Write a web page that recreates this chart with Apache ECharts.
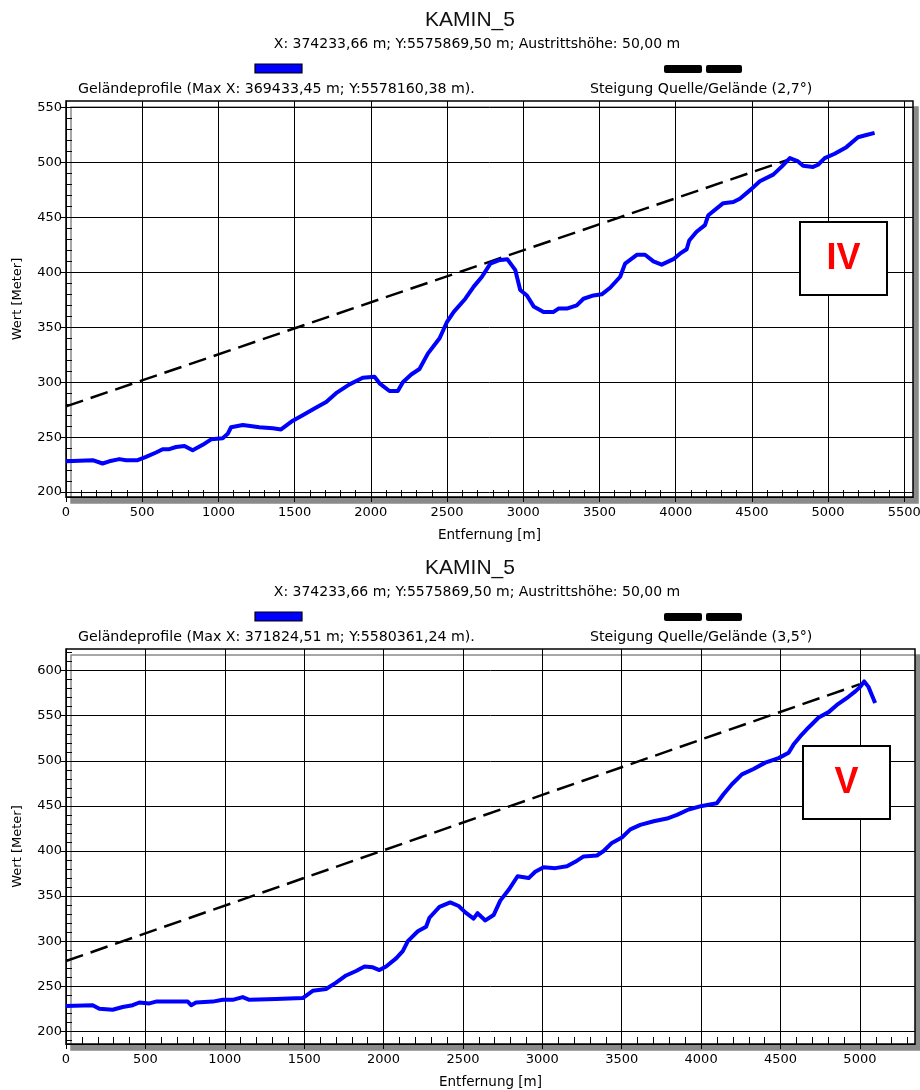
<!DOCTYPE html>
<html><head><meta charset="utf-8">
<script src="https://cdn.jsdelivr.net/npm/echarts@6/dist/echarts.min.js"></script>
<style>html,body{margin:0;padding:0;background:#fff}#c{width:920px;height:1090px}</style>
</head><body><div id="c"></div><script>
// ---------- data ----------
const titleText = 'KAMIN_5';
const subtitleText = 'X: 374233,66 m; Y:5575869,50 m; Austrittshöhe: 50,00 m';
const topProfileName = 'Geländeprofile (Max X: 369433,45 m; Y:5578160,38 m).';
const topSlopeName = 'Steigung Quelle/Gelände (2,7°)';
const botProfileName = 'Geländeprofile (Max X: 371824,51 m; Y:5580361,24 m).';
const botSlopeName = 'Steigung Quelle/Gelände (3,5°)';
const xName = 'Entfernung [m]';
const yName = 'Wert [Meter]';

const topDist = [0,175,240,284,350,394,470,525,591,634,678,722,777,831,897,952,1028,1061,1083,1160,1269,1357,1411,1488,1553,1630,1707,1772,1860,1947,2024,2057,2122,2177,2210,2265,2319,2374,2451,2500,2544,2620,2675,2729,2784,2838,2895,2948,2980,3024,3068,3133,3199,3231,3286,3351,3395,3461,3515,3570,3636,3668,3745,3799,3854,3908,3985,4028,4072,4089,4137,4192,4214,4312,4378,4421,4498,4552,4640,4694,4749,4803,4836,4901,4934,4978,5043,5120,5196,5251,5305];
const topElev = [228,229,226,228,230,229,229,232,236,239,239,241,242,238,243,248,249,253,259,261,259,258,257,265,270,276,282,290,298,304,305,299,292,292,300,307,312,326,340,355,364,376,387,396,408,411,412,402,384,379,369,364,364,367,367,370,376,379,380,386,396,408,416,416,410,407,412,417,421,429,437,443,452,463,464,467,476,483,489,496,504,501,497,496,498,504,508,514,523,525,527];
const topSlopeDist = [0, 4750];
const topSlopeElev = [278, 503];

const botDist = [0,168,210,294,357,420,462,525,567,767,788,819,924,987,1050,1113,1155,1323,1491,1554,1638,1701,1764,1827,1880,1932,1974,2016,2079,2121,2153,2216,2268,2289,2352,2420,2473,2515,2567,2592,2641,2693,2735,2788,2844,2914,2955,3008,3081,3155,3207,3260,3344,3386,3438,3501,3554,3617,3701,3785,3848,3921,4005,4099,4141,4194,4257,4330,4404,4488,4551,4582,4624,4677,4740,4803,4855,4928,4971,5002,5027,5054,5075,5096];
const botElev = [228,229,225,224,227,229,232,231,233,233,229,232,233,235,235,238,235,236,237,245,247,254,262,267,272,271,268,272,281,289,300,311,316,326,338,343,339,332,325,331,323,329,345,357,372,370,377,382,381,383,388,394,395,400,409,415,424,429,433,436,440,446,450,453,463,474,485,491,498,503,509,518,527,537,548,554,562,571,577,582,588,582,573,564];
const botSlopeDist = [0, 5000];
const botSlopeElev = [278, 585];

const topXLabels = [0,500,1000,1500,2000,2500,3000,3500,4000,4500,5000,5500];
const topYLabels = [200,250,300,350,400,450,500,550];
const botXLabels = [0,500,1000,1500,2000,2500,3000,3500,4000,4500,5000];
const botYLabels = [200,250,300,350,400,450,500,550,600];

// ---------- helpers ----------
function range(a, b, s) { const r = []; for (let v = a; v <= b; v += s) r.push(v); return r; }
function pairs(xs, ys) { return xs.map((x, i) => [x, ys[i]]); }
const plain = v => String(Math.round(v));

const FONT = 'DejaVu Sans';
const TOP = { left: 66, top: 101, width: 847, height: 396, xmax: 5557, ymin: 195.5, ymax: 556 };
const BOT = { left: 66, top: 649, width: 849, height: 395, xmax: 5347, ymin: 186, ymax: 624 };

function grids(p) {
  return [
    { left: p.left, top: p.top, width: p.width, height: p.height, show: true, outerBoundsMode: 'none', containLabel: false,
      backgroundColor: '#fff', borderColor: '#000', borderWidth: 1.5,
      shadowColor: '#8a8a8a', shadowOffsetX: 5, shadowOffsetY: 6, shadowBlur: 0 },
    { left: p.left, top: p.top, width: p.width, height: p.height, show: false, outerBoundsMode: 'none', containLabel: false }
  ];
}
function xAxes(p, g, labels) {
  return [
    { type: 'value', gridIndex: g, min: 0, max: p.xmax, interval: 500,
      axisLine: { show: true, onZero: false, lineStyle: { color: '#000', width: 1 } },
      axisTick: { show: true, length: 5, customValues: labels, lineStyle: { color: '#000', width: 1 } },
      axisLabel: { customValues: labels, formatter: plain, color: '#000', fontFamily: FONT, fontSize: 13, margin: 9 },
      splitLine: { show: true, lineStyle: { color: '#000', width: 1 } },
      name: xName, nameLocation: 'middle', nameGap: 31,
      nameTextStyle: { color: '#000', fontFamily: FONT, fontSize: 13.5 } },
    { type: 'value', gridIndex: g + 1, min: 0, max: p.xmax,
      axisLine: { show: false }, axisLabel: { show: false }, splitLine: { show: false },
      axisTick: { show: true, inside: true, length: 7, customValues: range(0, p.xmax, 100),
                  lineStyle: { color: '#000', width: 1 } } }
  ];
}
function yAxes(p, g, labels) {
  return [
    { type: 'value', gridIndex: g, min: p.ymin, max: p.ymax, minInterval: 50, maxInterval: 50,
      axisLine: { show: true, onZero: false, lineStyle: { color: '#000', width: 1 } },
      axisTick: { show: true, length: 5, customValues: labels, lineStyle: { color: '#000', width: 1 } },
      axisLabel: { customValues: labels, formatter: plain, color: '#000', fontFamily: FONT, fontSize: 13, margin: 4 },
      splitLine: { show: true, lineStyle: { color: '#000', width: 1 } },
      name: yName, nameLocation: 'middle', nameGap: 42, nameRotate: 90,
      nameTextStyle: { color: '#000', fontFamily: FONT, fontSize: 13 } },
    { type: 'value', gridIndex: g + 1, min: p.ymin, max: p.ymax,
      axisLine: { show: false }, axisLabel: { show: false }, splitLine: { show: false },
      axisTick: { show: true, inside: true, length: 6,
                  customValues: range(Math.ceil(p.ymin / 10) * 10, p.ymax, 10),
                  lineStyle: { color: '#000', width: 1 } } }
  ];
}
function header(y0, profName, slopeName, boxY, boxLabel, boxX) {
  return [
    { type: 'text', x: 470, y: y0 + 20, style: { text: titleText, font: '21px "Liberation Sans"', fill: '#111', align: 'center', verticalAlign: 'middle' } },
    { type: 'text', x: 477, y: y0 + 44, style: { text: subtitleText, font: '14px "DejaVu Sans"', fill: '#000', align: 'center', verticalAlign: 'middle' } },
    { type: 'rect', shape: { x: 255, y: y0 + 64, width: 47, height: 9 }, style: { fill: '#0000ff', stroke: '#000', lineWidth: 1.2 } },
    { type: 'rect', shape: { x: 664, y: y0 + 65, width: 38, height: 8, r: 2 }, style: { fill: '#000' } },
    { type: 'rect', shape: { x: 706, y: y0 + 65, width: 36, height: 8, r: 2 }, style: { fill: '#000' } },
    { type: 'text', x: 78, y: y0 + 89, style: { text: profName, font: '14.2px "DejaVu Sans"', fill: '#000', align: 'left', verticalAlign: 'middle' } },
    { type: 'text', x: 590, y: y0 + 89, style: { text: slopeName, font: '14.2px "DejaVu Sans"', fill: '#000', align: 'left', verticalAlign: 'middle' } },
    { type: 'rect', z: 100, shape: { x: boxX, y: boxY, width: 87, height: 73 }, style: { fill: '#fff', stroke: '#000', lineWidth: 2 } },
    { type: 'text', z: 101, x: boxX + 43.5, y: boxY + 37, style: { text: boxLabel, font: 'bold 36px "Liberation Sans"', fill: '#ff0000', align: 'center', verticalAlign: 'middle' } }
  ];
}

const chart = echarts.init(document.getElementById('c'), null, { renderer: 'canvas' });
chart.setOption({
  animation: false,
  backgroundColor: '#fff',
  grid: [...grids(TOP), ...grids(BOT)],
  xAxis: [...xAxes(TOP, 0, topXLabels), ...xAxes(BOT, 2, botXLabels)],
  yAxis: [...yAxes(TOP, 0, topYLabels), ...yAxes(BOT, 2, botYLabels)],
  series: [
    { name: topSlopeName, type: 'line', xAxisIndex: 0, yAxisIndex: 0, data: pairs(topSlopeDist, topSlopeElev),
      symbol: 'none', z: 2, lineStyle: { color: '#000', width: 2.5, type: [18, 8] } },
    { name: topProfileName, type: 'line', xAxisIndex: 0, yAxisIndex: 0, data: pairs(topDist, topElev),
      symbol: 'none', z: 3, lineStyle: { color: '#0000ff', width: 4, join: 'round' } },
    { name: botSlopeName, type: 'line', xAxisIndex: 2, yAxisIndex: 2, data: pairs(botSlopeDist, botSlopeElev),
      symbol: 'none', z: 2, lineStyle: { color: '#000', width: 2.5, type: [18, 8] } },
    { name: botProfileName, type: 'line', xAxisIndex: 2, yAxisIndex: 2, data: pairs(botDist, botElev),
      symbol: 'none', z: 3, lineStyle: { color: '#0000ff', width: 4, join: 'round' } }
  ],
  graphic: [
    ...header(0, topProfileName, topSlopeName, 222, 'IV', 800),
    ...header(548, botProfileName, botSlopeName, 746, 'V', 803)
  ]
});
</script></body></html>
